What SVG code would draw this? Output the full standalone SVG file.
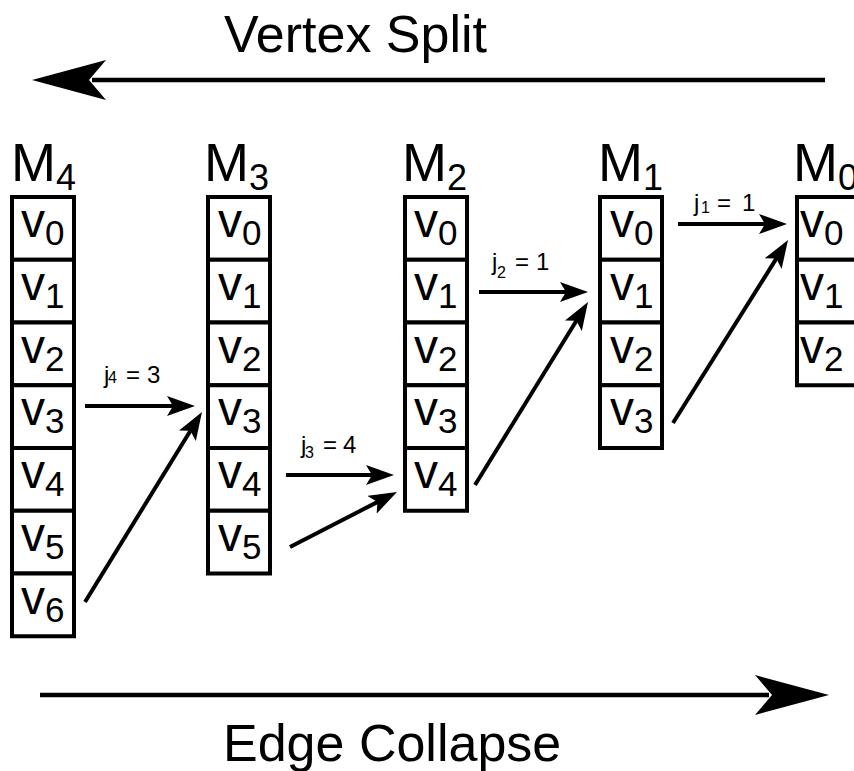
<svg xmlns="http://www.w3.org/2000/svg" width="854" height="771" viewBox="0 0 854 771">
<style>
  .cell { fill: #ffffff; stroke: #000000; stroke-width: 4; }
  .v { font-family: "Liberation Sans", Arial, sans-serif; font-size: 48px; fill: #000; }
  .vs { font-size: 35px; }
  .m { font-family: "Liberation Sans", Arial, sans-serif; font-size: 54px; fill: #000; }
  .ms { font-size: 36px; }
  .title { font-family: "Liberation Sans", Arial, sans-serif; font-size: 52px; fill: #000; }
  .lbl { font-family: "Liberation Sans", Arial, sans-serif; font-size: 24px; fill: #000; }
  .lbls { font-size: 16px; }
  .edge { stroke: #000; stroke-width: 4; fill: none; marker-end: url(#head); }
  .big { stroke: #000; stroke-width: 4.5; fill: none; marker-end: url(#bighead); }
</style>
<defs>
  <marker id="head" markerUnits="userSpaceOnUse" viewBox="0 0 28 20" refX="8" refY="10" markerWidth="28" markerHeight="20" orient="auto">
    <path d="M0,0 L28,10 L0,20 L6,10 Z" fill="#000"/>
  </marker>
  <marker id="bighead" markerUnits="userSpaceOnUse" viewBox="0 0 74 40" refX="14" refY="20" markerWidth="74" markerHeight="40" orient="auto">
    <path d="M0,0 L74,20 L0,40 L17,20 Z" fill="#000"/>
  </marker>
</defs>
<rect x="0" y="0" width="854" height="771" fill="#ffffff"/>

<g id="title-vertex-split">
  <text class="title" x="224" y="52">Vertex Split</text>
</g>
<g id="title-edge-collapse">
  <text class="title" x="223" y="761">Edge Collapse</text>
</g>

<g id="M4">
  <text class="m" x="11" y="181">M<tspan class="ms" dy="9">4</tspan></text>
  <rect class="cell" x="12" y="197" width="62" height="62.75"/>
  <rect class="cell" x="12" y="259.75" width="62" height="62.75"/>
  <rect class="cell" x="12" y="322.5" width="62" height="62.75"/>
  <rect class="cell" x="12" y="385.25" width="62" height="62.75"/>
  <rect class="cell" x="12" y="448" width="62" height="62.75"/>
  <rect class="cell" x="12" y="510.75" width="62" height="62.75"/>
  <rect class="cell" x="12" y="573.5" width="62" height="62.75"/>
  <text class="v" x="21" y="237">v<tspan class="vs" dy="8">0</tspan></text>
  <text class="v" x="21" y="299.75">v<tspan class="vs" dy="8">1</tspan></text>
  <text class="v" x="21" y="362.5">v<tspan class="vs" dy="8">2</tspan></text>
  <text class="v" x="21" y="425.25">v<tspan class="vs" dy="8">3</tspan></text>
  <text class="v" x="21" y="488">v<tspan class="vs" dy="8">4</tspan></text>
  <text class="v" x="21" y="550.75">v<tspan class="vs" dy="8">5</tspan></text>
  <text class="v" x="21" y="613.5">v<tspan class="vs" dy="8">6</tspan></text>
</g>

<g id="M3">
  <text class="m" x="204" y="181">M<tspan class="ms" dy="9">3</tspan></text>
  <rect class="cell" x="208" y="197" width="62" height="62.75"/>
  <rect class="cell" x="208" y="259.75" width="62" height="62.75"/>
  <rect class="cell" x="208" y="322.5" width="62" height="62.75"/>
  <rect class="cell" x="208" y="385.25" width="62" height="62.75"/>
  <rect class="cell" x="208" y="448" width="62" height="62.75"/>
  <rect class="cell" x="208" y="510.75" width="62" height="62.75"/>
  <text class="v" x="218" y="237">v<tspan class="vs" dy="8">0</tspan></text>
  <text class="v" x="218" y="299.75">v<tspan class="vs" dy="8">1</tspan></text>
  <text class="v" x="218" y="362.5">v<tspan class="vs" dy="8">2</tspan></text>
  <text class="v" x="218" y="425.25">v<tspan class="vs" dy="8">3</tspan></text>
  <text class="v" x="218" y="488">v<tspan class="vs" dy="8">4</tspan></text>
  <text class="v" x="218" y="550.75">v<tspan class="vs" dy="8">5</tspan></text>
</g>

<g id="M2">
  <text class="m" x="402" y="181">M<tspan class="ms" dy="9">2</tspan></text>
  <rect class="cell" x="405" y="197" width="62" height="62.75"/>
  <rect class="cell" x="405" y="259.75" width="62" height="62.75"/>
  <rect class="cell" x="405" y="322.5" width="62" height="62.75"/>
  <rect class="cell" x="405" y="385.25" width="62" height="62.75"/>
  <rect class="cell" x="405" y="448" width="62" height="62.75"/>
  <text class="v" x="414" y="237">v<tspan class="vs" dy="8">0</tspan></text>
  <text class="v" x="414" y="299.75">v<tspan class="vs" dy="8">1</tspan></text>
  <text class="v" x="414" y="362.5">v<tspan class="vs" dy="8">2</tspan></text>
  <text class="v" x="414" y="425.25">v<tspan class="vs" dy="8">3</tspan></text>
  <text class="v" x="414" y="488">v<tspan class="vs" dy="8">4</tspan></text>
</g>

<g id="M1">
  <text class="m" x="598" y="181">M<tspan class="ms" dy="9">1</tspan></text>
  <rect class="cell" x="600" y="197" width="62" height="62.75"/>
  <rect class="cell" x="600" y="259.75" width="62" height="62.75"/>
  <rect class="cell" x="600" y="322.5" width="62" height="62.75"/>
  <rect class="cell" x="600" y="385.25" width="62" height="62.75"/>
  <text class="v" x="610" y="237">v<tspan class="vs" dy="8">0</tspan></text>
  <text class="v" x="610" y="299.75">v<tspan class="vs" dy="8">1</tspan></text>
  <text class="v" x="610" y="362.5">v<tspan class="vs" dy="8">2</tspan></text>
  <text class="v" x="610" y="425.25">v<tspan class="vs" dy="8">3</tspan></text>
</g>

<g id="M0">
  <text class="m" x="793" y="181">M<tspan class="ms" dy="9">0</tspan></text>
  <rect class="cell" x="797" y="197" width="62" height="62.75"/>
  <rect class="cell" x="797" y="259.75" width="62" height="62.75"/>
  <rect class="cell" x="797" y="322.5" width="62" height="62.75"/>
  <text class="v" x="800" y="237">v<tspan class="vs" dy="8">0</tspan></text>
  <text class="v" x="800" y="299.75">v<tspan class="vs" dy="8">1</tspan></text>
  <text class="v" x="800" y="362.5">v<tspan class="vs" dy="8">2</tspan></text>
</g>

<g id="connectors">
  <line class="big" x1="825" y1="80" x2="92" y2="80"/>
  <line class="big" x1="40" y1="695" x2="769" y2="695"/>

  <line class="edge" x1="85" y1="406" x2="175" y2="406"/>
  <line class="edge" x1="85" y1="602" x2="191.5" y2="429"/>
  <line class="edge" x1="286" y1="475" x2="374" y2="475"/>
  <line class="edge" x1="290" y1="547" x2="379.2" y2="501.1"/>
  <line class="edge" x1="479" y1="292" x2="568" y2="292"/>
  <line class="edge" x1="475" y1="485" x2="577.5" y2="319"/>
  <line class="edge" x1="678" y1="224" x2="767" y2="224"/>
  <line class="edge" x1="673" y1="423" x2="777.4" y2="256.9"/>

  <text class="lbl" x="104" y="383">j<tspan class="lbls" x="108" dy="0">4</tspan><tspan x="126" dy="0">=</tspan><tspan x="147">3</tspan></text>
  <text class="lbl" x="301" y="453">j<tspan class="lbls" x="305" dy="5">3</tspan><tspan x="323" dy="-5">=</tspan><tspan x="343">4</tspan></text>
  <text class="lbl" x="492" y="270">j<tspan class="lbls" x="497" dy="8">2</tspan><tspan x="515" dy="-8">=</tspan><tspan x="536">1</tspan></text>
  <text class="lbl" x="694" y="211">j<tspan class="lbls" x="701" dy="2">1</tspan><tspan x="717" dy="-2">=</tspan><tspan x="742">1</tspan></text>
</g>
</svg>
